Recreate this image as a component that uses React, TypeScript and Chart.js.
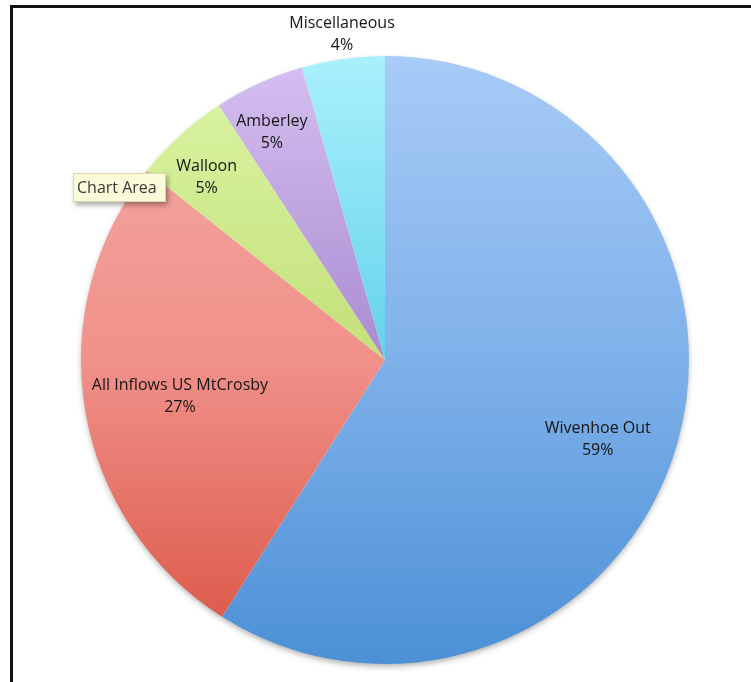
import React, { useEffect, useRef } from 'react';
import { Chart, registerables, Plugin } from 'chart.js';

Chart.register(...registerables);

const categories = ['Wivenhoe Out', 'All Inflows US MtCrosby', 'Walloon', 'Amberley', 'Miscellaneous'];
const shares = [59.0, 26.7, 5.1, 4.8, 4.4];
const percentLabels = ['59%', '27%', '5%', '5%', '4%'];

// gradient stops (top of pie -> middle -> bottom)
const sliceColors = [
  ['#a8cbf7', '#7fb1ea', '#4c90d6'],
  ['#f5aba5', '#f0918a', '#da5242'],
  ['#dcf6a6', '#c3e07a', '#aacb5c'],
  ['#d6c0f2', '#a98bd0', '#8a6ab8'],
  ['#aaf0fc', '#63d3ea', '#3bb8d4'],
];

// where each label sits: fraction of radius, angle shift in degrees
const labelPlace = [
  [0.747, 4.3],
  [0.685, -0.5],
  [0.84, -2],
  [0.835, -2],
  [1.08, 0.4],
];

const pieShadow: Plugin<'pie'> = {
  id: 'pieShadow',
  beforeDatasetsDraw(chart) {
    const arc: any = chart.getDatasetMeta(0).data[0];
    if (!arc) return;
    const { ctx } = chart;
    ctx.save();
    ctx.shadowColor = 'rgba(0,0,0,0.35)';
    ctx.shadowBlur = 6;
    ctx.shadowOffsetY = 3;
    ctx.fillStyle = '#ffffff';
    ctx.beginPath();
    ctx.arc(arc.x, arc.y, arc.outerRadius - 1, 0, Math.PI * 2);
    ctx.fill();
    ctx.restore();
  },
};

const sliceLabels: Plugin<'pie'> = {
  id: 'sliceLabels',
  afterDatasetsDraw(chart) {
    const { ctx } = chart;
    const meta = chart.getDatasetMeta(0);
    ctx.save();
    ctx.font = '16px "Open Sans", sans-serif';
    ctx.fillStyle = '#151515';
    ctx.textAlign = 'center';
    ctx.textBaseline = 'middle';
    meta.data.forEach((el: any, i) => {
      const [frac, shift] = labelPlace[i];
      const mid = (el.startAngle + el.endAngle) / 2 + (shift * Math.PI) / 180;
      const r = el.outerRadius * frac;
      const x = el.x + Math.cos(mid) * r;
      const y = el.y + Math.sin(mid) * r;
      ctx.fillText(categories[i], x, y - 11);
      ctx.fillText(percentLabels[i], x, y + 11);
    });
    ctx.restore();
  },
};

const PieChart = () => {
  const chartRef = useRef<HTMLCanvasElement>(null);

  useEffect(() => {
    if (!chartRef.current) return;
    const chart = new Chart(chartRef.current, {
      type: 'pie',
      data: {
        labels: categories,
        datasets: [
          {
            data: shares,
            borderWidth: 0,
            backgroundColor: (c: any) => {
              const stops = sliceColors[c.dataIndex];
              const area = c.chart.chartArea;
              if (!area) return stops[1];
              const g = c.chart.ctx.createLinearGradient(0, area.top, 0, area.bottom);
              g.addColorStop(0, stops[0]);
              g.addColorStop(0.5, stops[1]);
              g.addColorStop(1, stops[2]);
              return g;
            },
          },
        ],
      },
      options: {
        animation: false,
        responsive: false,
        events: [],
        layout: { padding: { top: 56, bottom: 18, left: 81, right: 62 } },
        plugins: {
          legend: { display: false },
          tooltip: { enabled: false },
        },
      },
      plugins: [pieShadow, sliceLabels],
    });
    return () => {
      chart.destroy();
    };
  }, []);

  return <canvas ref={chartRef} width={751} height={682} style={{ position: 'absolute', left: 0, top: 0 }} />;
};

export default function App() {
  return (
    <div
      style={{
        position: 'absolute',
        left: 0,
        top: 0,
        width: 751,
        height: 682,
        overflow: 'hidden',
        background: '#fff',
      }}
    >
      <div
        style={{
          position: 'absolute',
          left: 10,
          top: 5,
          width: 800,
          height: 800,
          border: '3px solid #111',
        }}
      />
      <PieChart />
      <div
        style={{
          position: 'absolute',
          left: 73,
          top: 173,
          width: 93,
          height: 29,
          boxSizing: 'border-box',
          background: '#fcfbd9',
          border: '1px solid #d8d6b4',
          boxShadow: '2px 3px 5px rgba(0,0,0,0.35)',
          font: '16px "Open Sans", sans-serif',
          color: '#3a3a3a',
          lineHeight: '27px',
          paddingLeft: 3,
          whiteSpace: 'nowrap',
        }}
      >
        Chart Area
      </div>
    </div>
  );
}
